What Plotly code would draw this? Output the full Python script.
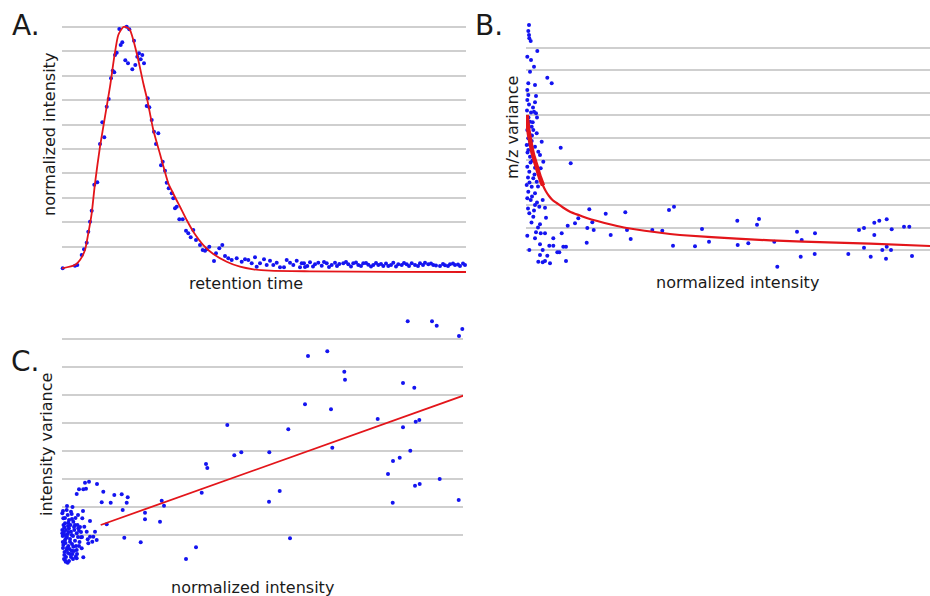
import numpy as np
import plotly.graph_objects as go

# ---------------- Panel A: chromatographic peak ----------------
a_rt = [0.7, 13, 15.3, 19.7, 22, 24.7, 26.3, 28, 29.7, 32.3, 35.3, 38, 40.3, 42.3, 44.7, 46.7, 49, 50.7,
        52.3, 53, 54.7, 57.3, 58.7, 60.3, 63.3, 64.7, 66, 67.3, 70.3, 72, 73.3, 75.3, 77, 78.7, 80.3, 82,
        84.7, 85.7, 87.3, 89.7, 92, 94, 96.3, 99, 100.7, 103, 104.7, 106.7,
        109.7, 111.3, 113, 114.7, 117.3, 120.7, 124, 126.3, 128.7, 131.3, 134, 138, 140.7, 143, 144.7, 147.3,
        152, 154, 157.3, 160.3, 163, 166.3, 169.7, 174.7, 179.7, 183, 186.3, 189.7, 193, 194.7, 198, 202,
        204.7, 208, 211.3, 214.7, 218, 222, 224.7, 228, 231.3, 234.7, 238, 242, 245.3,
        239.7, 248, 253, 256.3, 259.7, 264.7, 269.7, 273, 277.3, 281.3, 286.3, 291.3, 296.3, 301.3, 306.3,
        311.3, 316.3, 321.3, 326.3, 331.3, 336.3, 339.7, 344.7, 349.7, 353, 358, 363, 366.3, 371.3, 378,
        383, 388, 393, 398, 403,
        243, 251, 262, 267, 275, 284, 289, 294, 299, 304, 309, 314, 319, 324, 329, 334, 342, 347, 356, 361,
        369, 374, 381, 386, 391, 396, 401]
a_int = [2.7, 5.3, 6, 16, 21.7, 28.3, 39.3, 49.3, 60.3, 86.3, 88.7, 127, 148.7, 133.7, 164.3, 172, 192.7, 200.3,
         198.7, 216, 218.3, 242, 226, 228.7, 210.7, 244.3, 207.7, 241.7, 201.7, 230.3, 206, 214.3, 217.7, 211.7, 216, 207.7,
         165, 172.7, 163.7, 151, 139.3, 127, 137.7, 105.7, 109.3, 100.3, 88.3, 82.7,
         77.7, 72.7, 62.7, 64.3, 51.7, 51.7, 40.3, 37.7, 33.7, 41, 31, 26, 21, 20.3, 21.7, 24.3,
         10, 17.7, 22.7, 26, 15, 12.7, 11, 12.7, 9.3, 11.7, 11, 7.7, 13.7, 4.3, 7.7, 11.7,
         6, 10.3, 6, 8.3, 3.7, 3.7, 11, 8.3, 6, 10.3, 3.7, 7.7, 5,
         7.7, 8.7, 6.7, 8.3, 5.3, 7.7, 6, 8.3, 7, 7.7, 6.7, 7.7, 6, 7.7, 6.3,
         6, 6, 5, 5, 8.3, 6.7, 6, 6.7, 7.7, 6, 7.7, 8.3, 6.7, 6, 5,
         5.7, 6.7, 6, 5, 6,
         4, 4.5, 9, 4, 5, 9, 4.5, 8.5, 5, 8, 4.5, 8, 7, 7.5, 6, 4.5, 8, 5, 5, 6,
         7.5, 5.5, 7, 5, 7.5, 6.5, 7.5]
a_fit_rt = [0, 13, 18, 23, 26.3, 29.7, 33, 38, 43, 48, 52.3, 56.3, 61.3, 64.7, 68, 71.3, 76.3, 81.3, 85.3,
            91.3, 98, 106.3, 110, 115, 118, 124.7, 131.3, 141.3, 151.3, 164.7, 178, 191.3, 208, 248, 330, 404]
a_fit_int = [2.7, 6, 11, 21, 37.7, 57.7, 87.7, 124.3, 154.3, 184.3, 214.3, 236, 244, 243.7, 241, 231, 211,
             187.7, 171, 141, 117, 87.7, 80, 70, 64.3, 51, 39.3, 26, 17, 9.3, 4.3, 1.7, 0.3, -0.3, -0.8, -1]

# ---------------- Panel B: m/z variance vs intensity ----------------
b_int = [3, 2.3, 3, 3.3, 4.7, 11.3, 1.3, 5, 8, 4, 21.3, 25.7, 2.3, 9, 1.3, 2.3, 10, 1.3, 9, 10, 8, 4, 6.7,
         2.3, 5.7, 1.3, 7.3, 3.3, 10.7, 2.3, 5.7, 15.7, 0.7, 9, 2.3, 12.3, 14, 4, 17.3, 1.3, 9, 14.7, 3.3,
         7.3, 10.7, 0.7, 5.7, 2.3, 9, 1.3, 4.7, 16.7, 9, 13.3, 19, 3.3, 7.3, 20, 14, 1.3, 10, 14.7, 19, 9,
         27.3, 35.7, 14, 23.3, 27.3, 37.3, 40, 3.3, 16.7, 31.3, 33.3, 14, 21.3, 12.3, 16.7, 19, 24, 40,
         34.7, 44.7, 49, 52.3, 60.7, 41.7,
         63.3, 79.7, 99.3, 143, 148, 66.3, 61.3, 67.7, 84.7, 101, 104.7, 126.3, 136.3, 147, 169, 176, 183,
         211.3, 233, 231, 211.7, 222.3, 248.3, 251.3, 271, 275.7, 274.7, 289, 288.7, 322.3, 333, 338,
         348.3, 353.3, 360.7, 348.3, 365.7, 338, 344.7, 356.3, 360.7, 365, 360, 378, 383.3, 386,
         1.5, 3.5, 6, 2.5, 5, 7, 3, 11, 1, 4.5, 6.5, 2, 8.5, 3.5, 12, 6, 11, 2, 5.5, 8, 12]
b_var = [247.5, 241.5, 237.5, 234.2, 231.5, 221.5, 215.8, 212.5, 205.8, 200.8, 194.8, 189.2, 189.2, 187.5,
         182.5, 177.5, 176.5, 172.5, 170.2, 159.2, 160.8, 150.8, 150.2, 147.5, 145.8, 142.5, 142.5, 139.2,
         139.2, 134.2, 131.5, 130.8, 127.5, 125.8, 122.5, 120.8, 117.5, 115.8, 110.8, 105.8, 104.8, 104.2,
         100.8, 94.2, 90.8, 87.5, 85.8, 80.8, 79.2, 74.2, 72.5, 72.5, 67.5, 65.8, 64.8, 59.2, 55.8, 54.8,
         48.2, 36.8, 40.2, 39.2, 39.2, 34.2, 34.2, 39.2, 28.2, 26.8, 26.8, 25.8, 25.8, 22.5, 22.5, 20.2,
         20.2, 17.5, 16.8, 10.8, 10.2, 11.5, 9.2, 11.5,
         124.8, 109.2, 49.2, 54.2, 29.8, 46.8,
         63.2, 58.8, 60.2, 62.5, 65.8, 50.2, 44.5, 42.5, 37.5, 42.5, 33.5, 42.5, 41.8, 26.8, 26.2, 43.5,
         30.8, 51.8, 53.5, 47.8, 27.5, 29.2, 30.8, 5.8, 40.8, 32.5, 15.8, 39.2, 18.5, 18.5, 42.5, 44.5,
         49.8, 51.8, 53.2, 37.5, 43.2, 24.8, 15.8, 22.5, 25.8, 22.5, 13.8, 45.8, 45.8, 16.5,
         120, 128, 137, 155, 160, 165, 168, 155, 162, 110, 112, 95, 98, 90, 86, 76, 70, 64, 50, 62, 45]
b_fit_int = [0.7, 2, 4, 7, 10.7, 14, 17, 20, 23, 26.5, 30.7, 37, 44, 54, 60.7, 87, 100.7, 144, 154, 210.7,
             277, 344, 404]
b_fit_var = [157.5, 145, 132.5, 118, 105.8, 95, 87, 81, 76.5, 72.5, 69.5, 65, 60.8, 57, 54.5, 47.5, 44.5,
             38.5, 37.5, 33.8, 30.8, 28.8, 26.5]

# ---------------- Panel C: intensity variance vs intensity ----------------
c_int = [23, 27, 35, 17, 21.3, 24, 14.7, 41.3, 52.3, 59.7, 65.7, 39.7, 48.7, 64.7, 60.7, 83, 83, 98, 62.3,
         78.7, 44.7,
         5.7, 9.7, 1.3, 6.3, 11.3, 20.3, 28, 2.3, 7, 12.3, 17, 0.3, 5.7, 9.7, 14.7, 19, 33, 31.3, 25.7,
         30.3, 34.7, 3, 8, 13, 1.3, 6.3, 11.3, 17, 4.7, 9.7, 14.7, 19.7, 2.3, 8, 13.7, 21.3, 3, 5.7, 0.3,
         4, 9, 13, 22.3, 3, 4.7, 0.3, 9, 16.3, 24.7, 26.3, 28, 14.7, 3.7,
         0.7, 2, 3.5, 5, 6.5, 8, 10, 11, 12, 1, 2.5, 4, 6, 7.5, 9, 10.5, 12, 1.5, 3, 7, 8.5, 10, 13.5,
         15.5, 16, 18, 0.8, 2, 5, 7, 3, 4, 6, 11, 15, 17.5, 14, 19, 20, 1, 5, 10.5, 21, 16,
         99.7, 102, 134, 124, 139.7, 144, 145.3, 165.3, 172.3, 179.3, 207, 207.3, 217.7, 226.3, 228, 243,
         246, 265.3, 269, 270.3, 282.3, 283, 315.7, 326, 331, 330.7, 337.7, 341, 341, 345.7, 348.3, 352.3,
         353, 353.7, 357.3, 357.7, 370, 374.7, 377.7, 396.7, 397, 400.3]
c_var = [80.3, 81.3, 79, 73.7, 73.7, 74.3, 69, 71.3, 68, 68.7, 65.7, 60.7, 60.3, 60.3, 53, 50.3, 43.7, 41.3,
         25.3, 20.7, 38.7,
         48, 49, 44.7, 40.3, 41.3, 44.7, 42, 35.7, 34.7, 33, 32.3, 29.7, 29, 28, 29.7, 25.7, 31.3, 26.3,
         23.7, 21.3, 23, 23, 21.3, 22.3, 18, 17, 16.3, 17, 13, 12.3, 13, 14.7, 8, 9, 6.3, 5.7, 3, 0.3,
         33, 24.7, 31.3, 38, 36.3, 39.7, 53, 49.7, 51.3, 34.7, 31.3, 19.7, 26.3, 4.7, 1.3,
         27, 31, 20, 26, 31, 24, 19, 27, 36, 15, 11, 6, 10, 14, 6, 9, 12, 38, 45, 43, 38, 44, 45,
         38, 26, 36, 21, 4, 15, 2, 28, 33, 37, 4, 9, 21, 17, 31, 26, 52, 57, 56, 52, 48,
         62.3, 57.3, 15.7, 4, 70.3, 99, 95, 138, 107.7, 110.7, 61.3, 110.7, 72, 133.7, 24.7, 158.7,
         207, 211.7, 153.7, 115.3, 191.3, 183.3, 144, 89, 102, 60.3, 105.3, 180, 135.7, 241.7, 112.3, 175.3,
         77.3, 141.3, 143, 79, 241.7, 237.3, 84, 63, 227, 234]
c_fit_int = [38.7, 401.3]
c_fit_var = [38, 167.3]

# ---------------- styling ----------------
W, H = 930, 596
BLUE = "#1414f0"
RED = "#e3151a"
GRID = "#cfcfcf"
FONT = "DejaVu Sans"
TXT = "#1a1a1a"


def px_x(p):
    return p / W


def px_y(p):
    return 1 - p / H


a_norm = float(max(a_fit_int))
a_y = np.array(a_int) / a_norm
a_fit_y = np.array(a_fit_int) / a_norm

fig = go.Figure()
mk = dict(color=BLUE, size=4, line=dict(width=0))

fig.add_trace(go.Scatter(x=a_rt, y=a_y, mode="markers", marker=mk, xaxis="x", yaxis="y", cliponaxis=False))
fig.add_trace(go.Scatter(x=a_fit_rt, y=a_fit_y, mode="lines",
                         line=dict(color=RED, width=1.8, shape="spline", smoothing=0.6),
                         xaxis="x", yaxis="y", cliponaxis=False))

fig.add_trace(go.Scatter(x=b_int, y=b_var, mode="markers", marker=mk, xaxis="x2", yaxis="y2", cliponaxis=False))
fig.add_trace(go.Scatter(x=b_fit_int, y=b_fit_var, mode="lines",
                         line=dict(color=RED, width=2.2, shape="spline", smoothing=0.8),
                         xaxis="x2", yaxis="y2", cliponaxis=False))
fig.add_trace(go.Scatter(x=b_fit_int[:7], y=b_fit_var[:7], mode="lines",
                         line=dict(color=RED, width=4.5, shape="spline", smoothing=0.8),
                         xaxis="x2", yaxis="y2", cliponaxis=False))

fig.add_trace(go.Scatter(x=c_int, y=c_var, mode="markers", marker=mk, xaxis="x3", yaxis="y3", cliponaxis=False))
fig.add_trace(go.Scatter(x=c_fit_int, y=c_fit_var, mode="lines", line=dict(color=RED, width=1.8),
                         xaxis="x3", yaxis="y3", cliponaxis=False))

noax = dict(showticklabels=False, zeroline=False, showline=False, ticks="", fixedrange=True)

fig.update_layout(
    width=W, height=H, margin=dict(l=0, r=0, t=0, b=0),
    paper_bgcolor="white", plot_bgcolor="white", showlegend=False,
    font=dict(family=FONT, color=TXT),
    xaxis=dict(domain=[px_x(62), px_x(466)], range=[0, 404], showgrid=False, anchor="y", **noax),
    yaxis=dict(domain=[px_y(275.9), px_y(22.1)], range=[-0.02, 1.02], anchor="x",
               tickmode="array", tickvals=[k / 10 for k in range(1, 11)],
               showgrid=True, gridcolor=GRID, gridwidth=1.5, **noax),
    xaxis2=dict(domain=[px_x(526), 1.0], range=[0, 404], showgrid=False, anchor="y2", **noax),
    yaxis2=dict(domain=[px_y(277.5), px_y(17.5)], range=[-5, 255], anchor="x2",
                tickmode="array", tickvals=[22.5 * k for k in range(1, 11)],
                showgrid=True, gridcolor=GRID, gridwidth=1.5, **noax),
    xaxis3=dict(domain=[px_x(62), px_x(463)], range=[0, 401], showgrid=False, anchor="y3", **noax),
    yaxis3=dict(domain=[px_y(568), px_y(313)], range=[-5, 250], anchor="x3",
                tickmode="array", tickvals=[28 * k for k in range(1, 9)],
                showgrid=True, gridcolor=GRID, gridwidth=1.5, **noax),
)


def ann(text, x, y, size=16, angle=0, xanchor="center"):
    fig.add_annotation(text=text, x=px_x(x), y=px_y(y), xref="paper", yref="paper",
                       showarrow=False, textangle=angle, xanchor=xanchor, yanchor="middle",
                       font=dict(family=FONT, size=size, color=TXT))


ann("A.", 10, 26, size=28, xanchor="left")
ann("B.", 473, 26, size=28, xanchor="left")
ann("C.", 9, 361, size=28, xanchor="left")

ann("normalized intensity", 49, 135, angle=-90)
ann("retention time", 246, 283)
ann("m/z variance", 512, 128, angle=-90)
ann("normalized intensity", 737, 282)
ann("intensity variance", 47, 445, angle=-90)
ann("normalized intensity", 252, 587)

fig.write_html("out.html")
